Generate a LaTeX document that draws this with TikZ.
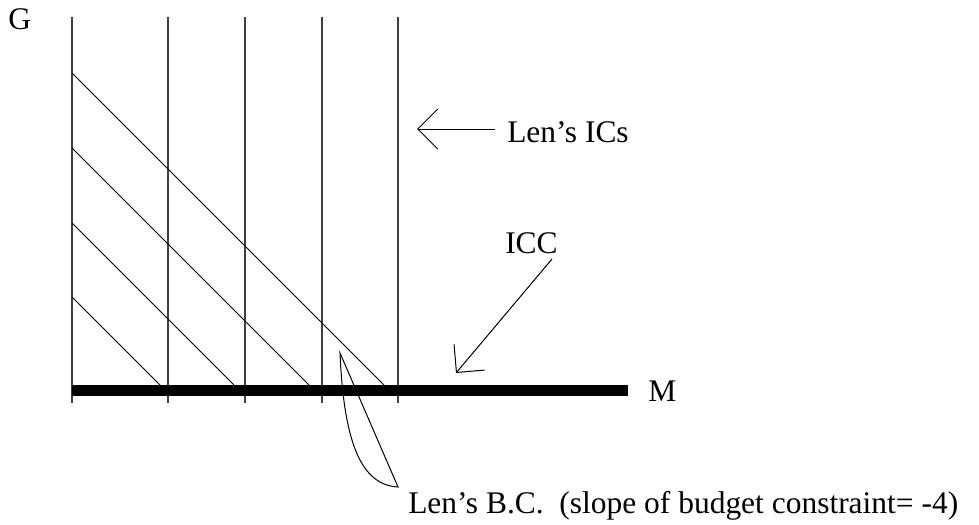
\documentclass[tikz,border=0pt]{standalone}
\usepackage{fontspec}
\setmainfont{Liberation Serif}
\usetikzlibrary{arrows.meta}
\begin{document}
\begin{tikzpicture}[x=0.75pt,y=-0.75pt,
  lbl/.style={anchor=base west,inner sep=0pt,font=\fontsize{23.6}{28}\selectfont},
  vline/.style={draw=black!75,line width=1pt},
  diag/.style={draw=black,line width=0.75pt},
  axisbar/.style={draw=black,line width=8.25pt,line cap=butt},
  arr/.style={draw=black,line width=0.75pt,-{Straight Barb[length=15pt,width=30pt]}},
  callout/.style={draw=black,line width=0.75pt}]
\useasboundingbox (0,0) rectangle (979,525);
% vertical indifference curves
\foreach \x [count=\i] in {72,168,245,322,398}{
  \coordinate (vt\i) at (\x,17);
  \coordinate (vb\i) at (\x,403);
  \draw[vline] (vt\i) -- (vb\i);
}
% budget lines (slope -1 in picture)
\foreach \y/\xe [count=\i] in {73/384,148/309,223/234,297/160}{
  \coordinate (ds\i) at (72,\y);
  \coordinate (de\i) at (\xe,385);
  \draw[diag] (ds\i) -- (de\i);
}
% thick axis bar (ICC)
\coordinate (barL) at (72,390.5);
\coordinate (barR) at (628,390.5);
\draw[axisbar] (barL) -- (barR);
% labels
\node[lbl] (G) at (8,29) {G};
\node[lbl] (M) at (648,401) {M};
\node[lbl] (ics) at (507,142) {Len’s ICs};
\node[lbl] (icc) at (505,253) {ICC};
\node[lbl] (bc) at (408,513) {Len’s B.C.\ \ (slope of budget constraint= -4)};
% arrows
\coordinate (icsTail) at (495,129);
\coordinate (icsTip) at (417,129);
\draw[arr] (icsTail) -- (icsTip);
\coordinate (iccTail) at (552,259);
\coordinate (iccTip) at (456,373);
\draw[arr] (iccTail) -- (iccTip);
% callout wedge
\coordinate (apex) at (340,353);
\coordinate (wedgeEnd) at (398,487);
\draw[callout] (apex) .. controls (344,445) and (362,485) .. (wedgeEnd) -- cycle;
\end{tikzpicture}
\end{document}
